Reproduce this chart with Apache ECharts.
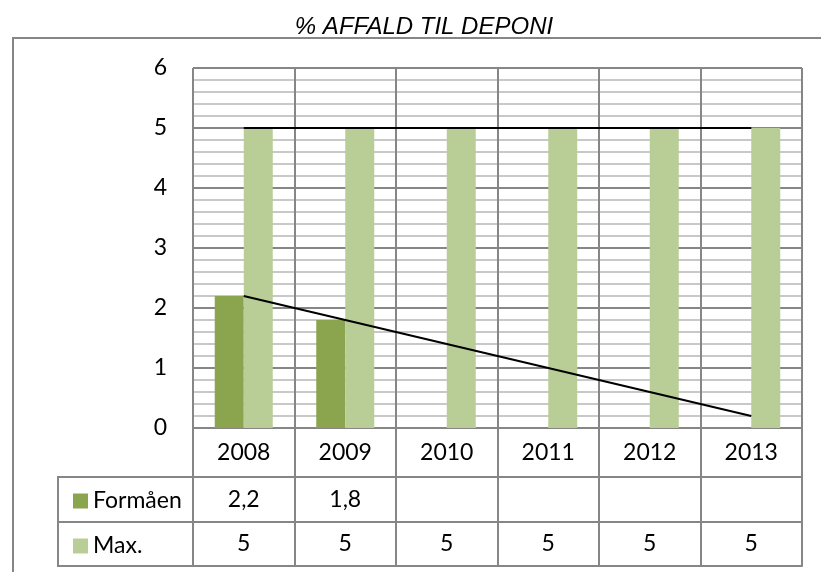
<!DOCTYPE html>
<html>
<head>
<meta charset="utf-8">
<script src="https://cdn.jsdelivr.net/npm/echarts@6/dist/echarts.min.js"></script>
<style>
  html, body { margin: 0; padding: 0; background: #fff; }
  #main { width: 821px; height: 572px; }
</style>
</head>
<body>
<div id="main"></div>
<script>
// data
var years = ["2008", "2009", "2010", "2011", "2012", "2013"];
var formaaen = [2.2, 1.8, null, null, null, null];
var maxValues = [5, 5, 5, 5, 5, 5];
// linear trend lines
var trendFormaaen = [2.2, 1.8, 1.4, 1.0, 0.6, 0.2];
var trendMax = [5, 5, 5, 5, 5, 5];
var yTicks = [0, 1, 2, 3, 4, 5, 6];

var gridColor = "#868686";
var minorColor = "#c8c8c8";
var font = "Lato";

function cellText(arr) {
  return function (value, index) {
    var v = arr[index];
    if (v === null || v === undefined) return "";
    return String(v).replace(".", ",");
  };
}

// table row axis (horizontal line + vertical cell borders + values)
function rowAxis(offset, rowHeight, formatter) {
  return {
    type: "category",
    data: years,
    position: "bottom",
    offset: offset,
    boundaryGap: true,
    axisLine: { show: true, lineStyle: { color: gridColor, width: 2 } },
    axisTick: { show: true, interval: 0, length: rowHeight, lineStyle: { color: gridColor, width: 2 } },
    axisLabel: {
      show: true,
      interval: 0,
      margin: rowHeight / 2,
      verticalAlign: "middle",
      color: "#000",
      fontFamily: font,
      fontSize: 23,
      formatter: formatter
    },
    splitLine: { show: false }
  };
}

var chart = echarts.init(document.getElementById("main"));

var xHeader = rowAxis(0, 49, function (v) { return v; });
xHeader.splitLine = { show: true, interval: 0, lineStyle: { color: gridColor, width: 2 } };
var xBottom = rowAxis(138, 0, function () { return ""; });
xBottom.axisTick = { show: false };
xBottom.axisLabel = { show: false };

chart.setOption({
  animation: false,
  title: {
    text: "% AFFALD TIL DEPONI",
    left: 419,
    textAlign: "center",
    top: 10,
    textStyle: {
      fontFamily: "Liberation Sans",
      fontStyle: "italic",
      fontWeight: "normal",
      fontSize: 24,
      color: "#000"
    }
  },
  legend: {
    data: ["Formåen", "Max."],
    orient: "vertical",
    left: 68,
    top: 483,
    itemGap: 19,
    itemWidth: 15,
    itemHeight: 15,
    icon: "rect",
    selectedMode: false,
    textStyle: { fontFamily: font, fontSize: 23, lineHeight: 26, color: "#000" }
  },
  grid: { left: 193, right: 19, top: 68, bottom: 144 },
  xAxis: [
    xHeader,
    rowAxis(49, 45, cellText(formaaen)),
    rowAxis(94, 44, cellText(maxValues)),
    xBottom
  ],
  yAxis: {
    type: "value",
    min: yTicks[0],
    max: yTicks[yTicks.length - 1],
    interval: 1,
    axisLine: { show: false },
    axisTick: { show: false },
    axisLabel: { margin: 26, color: "#000", fontFamily: font, fontSize: 23 },
    splitLine: { show: true, lineStyle: { color: gridColor, width: 2 } },
    minorTick: { show: false, splitNumber: 5 },
    minorSplitLine: { show: true, lineStyle: { color: minorColor, width: 2 } }
  },
  graphic: [
    {
      type: "rect",
      shape: { x: 13, y: 38, width: 900, height: 700 },
      style: { fill: null, stroke: gridColor, lineWidth: 2 },
      silent: true,
      z: -1
    },
    {
      type: "rect",
      shape: { x: 58, y: 477, width: 135, height: 89 },
      style: { fill: null, stroke: gridColor, lineWidth: 2 },
      silent: true
    },
    {
      type: "line",
      shape: { x1: 58, y1: 522, x2: 193, y2: 522 },
      style: { stroke: gridColor, lineWidth: 2 },
      silent: true
    }
  ],
  series: [
    {
      name: "Formåen",
      type: "bar",
      barWidth: 29,
      barGap: "0%",
      itemStyle: { color: "#8aa54e" },
      data: formaaen
    },
    {
      name: "Max.",
      type: "bar",
      barWidth: 29,
      barGap: "0%",
      itemStyle: { color: "#b9cd96" },
      data: maxValues
    },
    {
      name: "Lineær (Formåen)",
      type: "line",
      symbol: "none",
      z: 5,
      lineStyle: { color: "#000", width: 2 },
      data: trendFormaaen
    },
    {
      name: "Lineær (Max.)",
      type: "line",
      symbol: "none",
      z: 5,
      lineStyle: { color: "#000", width: 2 },
      data: trendMax
    }
  ]
});
</script>
</body>
</html>
